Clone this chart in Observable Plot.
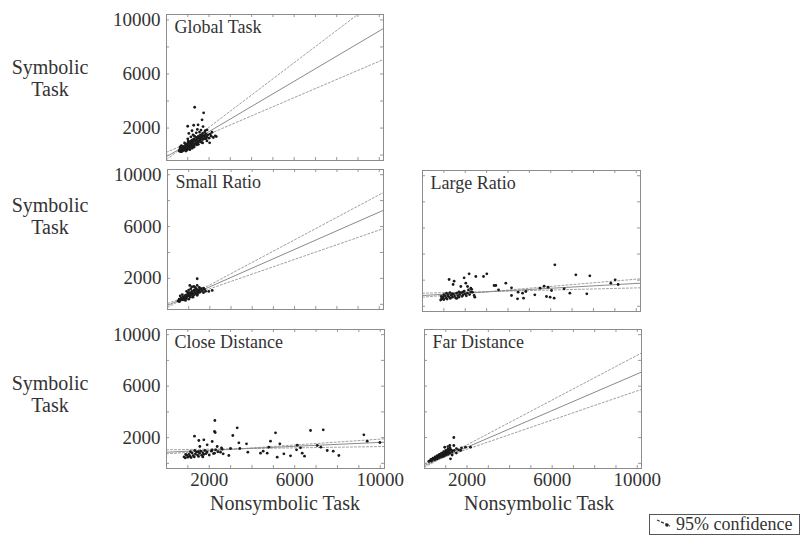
<!DOCTYPE html>
<html><head><meta charset="utf-8">
<script src="https://cdn.jsdelivr.net/npm/d3@7"></script>
<script src="https://cdn.jsdelivr.net/npm/@observablehq/plot@0.6"></script>
<style>
body{margin:0;background:#fff;}
#wrap{position:relative;width:802px;height:536px;font-family:"Liberation Serif",serif;color:#333;overflow:hidden;}
#wrap svg{position:absolute;}
.lab{position:absolute;text-align:center;font-size:20px;line-height:22px;white-space:nowrap;}
#legend{position:absolute;left:649px;top:514px;width:149px;height:19px;border:1px solid #555;font-size:18px;line-height:19px;white-space:nowrap;}
</style></head><body><div id="wrap"></div>
<script>
// ---- data ----
const panelTitles = ["Global Task", "Small Ratio", "Large Ratio", "Close Distance", "Far Distance"];
const yTickLabels = [2000, 6000, 10000];
const xTickLabels = [2000, 6000, 10000];
const fitSlope = [0.93, 0.72, 0.0924, 0.0762, 0.712];
const fitIntercept = [-120, -86, 825, 866, -170];
const upperSlope = [1.194, 0.869, 0.138, 0.114, 0.870];
const upperIntercept = [-330, -240, 695, 742, -300];
const lowerSlope = [0.673, 0.566, 0.0406, 0.025, 0.567];
const lowerIntercept = [210, 69, 1001, 1053, -35];

const globalPoints = [[1324,3540],[1746,3126],[1671,2608],[997,2134],[1278,2208],[1484,2238],[1718,2112],[1905,1868],[2139,1690],[2026,906],[2293,1424],[2340,1372],[1825,1816],
[600,300],[650,450],[700,250],[720,550],[780,400],[800,650],[850,500],[880,350],[900,800],[950,600],[980,450],[1000,900],[1050,700],[1080,550],[1100,1000],[1150,800],[1180,650],[1200,1100],[1250,900],[1280,750],[1300,1200],[1350,1000],[1380,850],[1400,1300],[1450,1100],[1480,950],[1500,1400],[1550,1200],[1580,1050],[1600,1500],[1650,1300],[1700,1150],[1750,1400],[1800,1250],[1850,1550],[1900,1350],[700,700],[850,900],[1000,1200],[1150,1350],[1250,1500],[1400,1650],[1550,1700],[1700,1600],[1800,1700],[1950,1500],[2000,1250],[1100,400],[1300,600],[1500,800],[1700,900],[1900,1050],[750,350],[950,350],[1200,500],[640,600],[1020,1050],[1320,1400],[1620,1850],[1450,1900],[1200,1800],[1050,1600],[1600,1150],[2100,1400],
[620,400],[680,350],[740,450],[760,300],[820,550],[830,420],[870,620],[920,480],[930,700],[970,750],[1020,600],[1060,850],[1120,650],[1130,900],[1170,1050],[1220,700],[1230,950],[1260,1150],[1330,800],[1370,1100],[1420,900],[1460,1250],[1530,1000],[1570,1350],[1630,1250],[1680,1450],[1760,1200],[1820,1450],[660,250],[690,500],[910,300],[1070,450],[1240,600],[1420,750],[1640,950],[1860,1200],[2050,1550],[2200,1300]];

const smallRatioPoints = [[1402,1973],[1053,1456],[1241,1379],[1949,994],[2110,1071],[1402,1456],
[500,250],[550,400],[600,300],[650,500],[700,350],[750,600],[800,450],[850,700],[900,550],[950,800],[1000,650],[1050,900],[1100,700],[1150,1000],[1200,800],[1250,1100],[1300,900],[1350,1200],[1400,1000],[1450,850],[1500,1100],[1550,950],[1600,1200],[1650,1050],[1700,900],[1750,1150],[1800,1000],[700,750],[900,1000],[1100,1200],[1300,1300],[850,300],[1000,400],[1200,550],[1400,700],[600,650],[1000,1100],[1150,1350],[1500,1300],[1700,1250],
[560,200],[640,380],[720,480],[780,350],[820,600],[880,450],[940,650],[980,900],[1030,750],[1080,550],[1130,850],[1180,950],[1230,700],[1280,1050],[1330,800],[1380,1150],[1430,950],[1480,1000],[1530,1200]];

const largeRatioPoints = [[1245,2051],[1479,1921],[1432,1668],[2181,2487],[2494,2280],[2855,2280],[3009,2487],[2026,1767],[1947,2181],[1792,1514],[2106,1514],[2260,1384],[2340,1078],[1872,1078],[2415,825],[2448,695],
[3351,1591],[3430,1591],[3557,1262],[3898,1767],[4165,1415],[4165,825],[4446,572],[4474,1078],[4680,1001],[4727,618],[4834,1131],[5256,879],[5504,1384],[5691,1537],[5878,1461],[5803,748],[6037,1208],[5972,695],[6159,618],[6192,3177],[6627,1338],[6894,1001],[7175,2411],[7689,955],[7829,2334],[8813,1767],[9014,2028],[9154,1668],
[850,480],[900,600],[950,700],[1000,520],[1050,800],[1100,650],[1150,550],[1200,900],[1250,720],[1300,600],[1350,850],[1400,700],[1450,950],[1500,780],[1550,640],[1600,1000],[1650,820],[1700,700],[1750,900],[1800,1050],[1850,760],[1900,880],[1950,1150],[2000,950],[2050,800],[2100,1000],[2150,1250],[2200,900],[2250,1100],[1000,900],[1120,1000],[1280,1050],[1380,950],[880,750],[960,560],[1180,780],[1600,600],[1700,1100],[2300,1300]];

const closeDistancePoints = [[1310,2110],[1513,1775],[1747,1827],[1560,1309],[1903,1441],[2138,1698],[2263,3329],[2246,2475],[2278,2397],[2371,1309],[2574,1208],[2138,1053],[2246,789],[2527,866],[2652,742],[2916,610],[2995,1154],[3103,2164],[3307,2762],[3385,1597],[3432,1154],[3744,1519],[3806,866],[4399,789],[4524,944],[4711,789],[4789,1255],[4867,1721],[5101,2374],[5179,478],[5304,1519],[5491,742],[5803,587],[6084,1053],[6117,1410],[6271,1208],[6350,789],[6458,556],[6739,2552],[7053,1387],[7222,1255],[7333,2606],[7520,998],[7801,944],[8064,610],[9234,2218],[9391,1721],[9984,1620],
[820,500],[880,420],[950,620],[1000,480],[1050,700],[1100,560],[1150,450],[1200,800],[1250,600],[1300,500],[1350,720],[1400,880],[1450,640],[1500,540],[1550,780],[1600,950],[1650,620],[1700,820],[1750,700],[1800,1000],[1850,760],[1900,880],[2000,650],[2100,950],[2200,760],[2300,1050],[900,700],[1120,900],[1320,1000],[1480,900],[1700,500],[2400,900],[2600,1100]];

const farDistancePoints = [[1378,2008],[1190,1387],[1378,1387],[1739,1208],[1927,1255],[2162,1255],[1222,354],
[250,200],[300,300],[350,250],[400,400],[450,350],[500,500],[550,420],[600,600],[650,520],[700,700],[750,600],[800,800],[850,700],[900,900],[950,750],[1000,1000],[1050,850],[1100,1100],[1150,950],[1200,800],[1250,1050],[1300,900],[1400,1000],[1500,1150],[1600,1050],[700,450],[900,550],[1100,700],[1300,650],[1500,800],[600,350],[800,500],[1000,650],[1200,1200],[950,1250],[1100,1300],[1700,1000],
[200,150],[320,180],[380,320],[480,280],[520,380],[580,520],[620,450],[680,620],[720,560],[780,680],[820,620],[880,780],[920,680],[980,850],[1020,780],[1080,950],[1140,850],[1180,1050],[1280,980]];

const panelPoints = [globalPoints, smallRatioPoints, largeRatioPoints, closeDistancePoints, farDistancePoints];

// ---- layout ----
const xDomain = [0, 10200];
const yDomain = [-400, 10400];
const frames = [
  {l:166, t:14,  r:383, b:160, yLab:true,  xLab:false},
  {l:167, t:169, r:383, b:309, yLab:true,  xLab:false},
  {l:422, t:170, r:640, b:311, yLab:false, xLab:false},
  {l:166, t:329, r:384, b:468, yLab:true,  xLab:true},
  {l:424, t:329, r:641, b:468, yLab:false, xLab:true}
];
const ML = 70, MR = 28, MT = 8, MB = 32;
const wrap = document.getElementById("wrap");
const xMinor = d3.range(1000, 10001, 1000);
const yMinor = d3.range(0, 10001, 2000);

panelTitles.forEach((title, i) => {
  const f = frames[i];
  const fw = f.r - f.l, fh = f.b - f.t;
  const pts = panelPoints[i].map(([x, y]) => ({x, y}));
  const lineDefs = [
    {k: "fit", m: fitSlope[i], b: fitIntercept[i]},
    {k: "upper", m: upperSlope[i], b: upperIntercept[i]},
    {k: "lower", m: lowerSlope[i], b: lowerIntercept[i]}
  ];
  const lineData = lineDefs.flatMap(d => xDomain.map(x => ({k: d.k, x, y: d.b + d.m * x})));
  const marks = [
    Plot.line(lineData.filter(d => d.k !== "fit"), {x: "x", y: "y", z: "k", stroke: "#a0a0a0", strokeWidth: 1, strokeDasharray: "2,2", clip: true}),
    Plot.line(lineData.filter(d => d.k === "fit"), {x: "x", y: "y", stroke: "#8a8a8a", strokeWidth: 1, clip: true}),
    Plot.dot(pts, {x: "x", y: "y", r: 1.4, fill: "#1a1a1a", stroke: null, clip: true}),
    Plot.tickX(xMinor, {x: d => d, insetTop: fh - 3, stroke: "#999"}),
    Plot.tickX(xMinor, {x: d => d, insetBottom: fh - 3, stroke: "#999"}),
    Plot.tickY(yMinor, {y: d => d, insetRight: fw - 3, stroke: "#999"}),
    Plot.tickY(yMinor, {y: d => d, insetLeft: fw - 3, stroke: "#999"}),
    Plot.frame({stroke: "#8c8c8c"}),
    Plot.text([title], {frameAnchor: "top-left", dx: 8, dy: 6, lineAnchor: "top", textAnchor: "start", fontSize: 18, fill: "#333"})
  ];
  marks.push(f.yLab
    ? Plot.axisY({ticks: yTickLabels, tickSize: 0, tickPadding: 6, tickFormat: d => String(d), fontSize: 19, fill: "#333"})
    : Plot.axisY({ticks: [], tickSize: 0}));
  marks.push(f.xLab
    ? Plot.axisX({ticks: xTickLabels, tickSize: 0, tickPadding: 4, tickFormat: d => String(d), fontSize: 19, fill: "#333"})
    : Plot.axisX({ticks: [], tickSize: 0}));
  const svg = Plot.plot({
    width: fw + ML + MR,
    height: fh + MT + MB,
    marginLeft: ML, marginRight: MR, marginTop: MT, marginBottom: MB,
    x: {domain: xDomain, label: null},
    y: {domain: yDomain, label: null},
    style: {fontFamily: "Liberation Serif, serif", background: "transparent", color: "#333", maxWidth: "none"},
    marks
  });
  svg.style.left = (f.l - ML) + "px";
  svg.style.top = (f.t - MT) + "px";
  wrap.appendChild(svg);
});

// ---- axis titles ----
const symTops = [56, 194, 372];
symTops.forEach(t => {
  const d = document.createElement("div");
  d.className = "lab";
  d.style.left = "0px"; d.style.width = "100px"; d.style.top = t + "px";
  d.innerHTML = "Symbolic<br>Task";
  wrap.appendChild(d);
});
[285, 539].forEach(cx => {
  const d = document.createElement("div");
  d.className = "lab";
  d.style.left = (cx - 100) + "px"; d.style.width = "200px"; d.style.top = "492px";
  d.textContent = "Nonsymbolic Task";
  wrap.appendChild(d);
});
const lg = document.createElement("div");
lg.id = "legend";
lg.innerHTML = '<svg width="26" height="19" style="position:static;vertical-align:top"><line x1="7" y1="5" x2="20" y2="11" stroke="#333" stroke-width="1.2" stroke-dasharray="3,1.5"/><circle cx="17" cy="10" r="1.8" fill="#222"/></svg>95% confidence';
wrap.appendChild(lg);
</script>
</body></html>
